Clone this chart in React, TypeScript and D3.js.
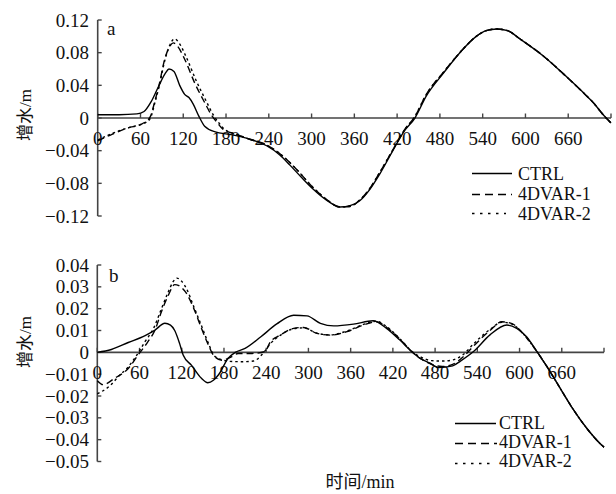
import React from "react";
import * as d3 from "d3";

// ---------- Panel a data ----------
const aCtrlT = [0, 30, 55, 65, 75, 85, 95, 100, 107, 115, 122, 128, 134, 142, 150, 165, 185, 210, 237, 255, 270, 285, 302, 320, 340, 355, 368, 382, 396, 414, 430, 445, 461, 485, 508, 531, 545, 560, 575, 592, 625, 657, 680, 695, 710, 720];
const aCtrlV = [0.004, 0.004, 0.005, 0.008, 0.02, 0.038, 0.055, 0.06, 0.057, 0.04, 0.029, 0.025, 0.017, 0.002, -0.01, -0.017, -0.02, -0.025, -0.034, -0.045, -0.058, -0.072, -0.087, -0.1, -0.109, -0.107, -0.101, -0.087, -0.068, -0.04, -0.016, 0, 0.027, 0.055, 0.08, 0.1, 0.107, 0.109, 0.107, 0.097, 0.076, 0.051, 0.032, 0.019, 0.003, -0.006];

const aV1T = [0, 20, 43, 60, 68, 74, 80, 86, 94, 100, 106, 112, 122, 136, 150, 160, 168, 176, 195, 213, 232, 256, 279, 302, 320, 340, 355, 368, 382, 396, 414, 430, 445, 461, 485, 508, 531, 545, 560, 575, 592, 625, 657, 680, 695, 710, 720];
const aV1V = [-0.028, -0.02, -0.012, -0.008, -0.004, 0.002, 0.02, 0.04, 0.072, 0.086, 0.092, 0.088, 0.072, 0.043, 0.019, 0.003, -0.006, -0.014, -0.02, -0.026, -0.031, -0.044, -0.063, -0.085, -0.099, -0.109, -0.108, -0.1, -0.086, -0.066, -0.039, -0.015, 0.002, 0.029, 0.056, 0.08, 0.1, 0.107, 0.109, 0.107, 0.097, 0.076, 0.051, 0.032, 0.019, 0.003, -0.006];

const aV2T = [0, 20, 43, 60, 68, 74, 80, 86, 94, 100, 108, 114, 124, 138, 152, 162, 170, 178, 195, 213, 232, 256, 279, 302, 320, 340, 355, 368, 382, 396, 414, 430, 445, 461, 485, 508, 531, 545, 560, 575, 592, 625, 657, 680, 695, 710, 720];
const aV2V = [-0.027, -0.019, -0.012, -0.008, -0.005, 0.0, 0.018, 0.038, 0.07, 0.087, 0.097, 0.092, 0.075, 0.046, 0.021, 0.004, -0.006, -0.014, -0.02, -0.026, -0.031, -0.044, -0.063, -0.085, -0.099, -0.109, -0.108, -0.1, -0.086, -0.066, -0.039, -0.015, 0.002, 0.029, 0.056, 0.08, 0.1, 0.107, 0.109, 0.107, 0.097, 0.076, 0.051, 0.032, 0.019, 0.003, -0.006];

// ---------- Panel b data ----------
const bCtrlT = [0, 20, 44, 68, 82, 96, 104, 110, 117, 122, 134, 148, 157, 165, 172, 186, 196, 210, 232, 255, 279, 298, 317, 336, 364, 392, 411, 430, 447, 459, 473, 485, 505, 516, 535, 558, 582, 596, 610, 625, 639, 658, 677, 696, 717, 720];
const bCtrlV = [0, 0.0013, 0.0045, 0.0077, 0.0102, 0.0133, 0.0125, 0.01, 0.004, -0.0012, -0.006, -0.0119, -0.0139, -0.0128, -0.0104, -0.0027, 0, 0.0018, 0.007, 0.013, 0.017, 0.0167, 0.0133, 0.0121, 0.0129, 0.0145, 0.011, 0.0056, 0.0003, -0.0028, -0.005, -0.007, -0.0062, -0.004, 0.0005, 0.008, 0.0125, 0.011, 0.0072, 0.0002, -0.0066, -0.0166, -0.0265, -0.035, -0.0426, -0.0435];

const bV1T = [0, 8, 25, 44, 58, 72, 82, 91, 101, 110, 116, 125, 139, 148, 158, 165, 177, 191, 200, 220, 238, 246, 260, 279, 293, 312, 331, 355, 378, 397, 411, 430, 447, 460, 475, 490, 505, 520, 535, 558, 575, 590, 605, 625, 639, 658, 677, 696, 717, 720];
const bV1V = [-0.013, -0.0148, -0.0118, -0.0074, -0.0012, 0.0049, 0.0102, 0.0185, 0.0262, 0.031, 0.0305, 0.0278, 0.0186, 0.011, 0.0033, -0.0013, -0.0036, -0.002, -0.0005, -0.0005, 0.0003, 0.0048, 0.0079, 0.011, 0.0114, 0.0087, 0.0079, 0.0095, 0.0125, 0.014, 0.0115, 0.006, 0.0003, -0.003, -0.0055, -0.0065, -0.0055, -0.002, 0.003, 0.01, 0.014, 0.013, 0.0085, 0.0002, -0.0066, -0.0166, -0.0265, -0.035, -0.0426, -0.0435];

const bV2T = [0, 18, 32, 42, 56, 68, 80, 90, 100, 108, 113, 120, 127, 137, 147, 158, 166, 178, 192, 207, 222, 234, 246, 260, 279, 293, 312, 331, 355, 378, 397, 411, 430, 447, 460, 475, 490, 505, 520, 535, 558, 575, 590, 605, 625, 639, 658, 677, 696, 717, 720];
const bV2V = [-0.019, -0.0153, -0.0104, -0.0074, -0.0013, 0.005, 0.011, 0.019, 0.027, 0.0325, 0.034, 0.0325, 0.029, 0.021, 0.013, 0.004, -0.0015, -0.0035, -0.0042, -0.0043, -0.004, -0.001, 0.004, 0.0078, 0.0108, 0.0112, 0.0088, 0.008, 0.0098, 0.0128, 0.0142, 0.0118, 0.0062, 0.0005, -0.0022, -0.0038, -0.004, -0.0035, -0.001, 0.004, 0.0105, 0.0138, 0.0128, 0.0085, 0.0002, -0.0066, -0.0166, -0.0265, -0.035, -0.0426, -0.0435];

// ---------- Axis ticks / labels ----------
const xTicks = [0, 60, 120, 180, 240, 300, 360, 420, 480, 540, 600, 660, 720];
const xTickLabels = ["0", "60", "120", "180", "240", "300", "360", "420", "480", "540", "600", "660", ""];
const aYTicks = [0.12, 0.08, 0.04, 0, -0.04, -0.08, -0.12];
const aYTickLabels = ["0.12", "0.08", "0.04", "0", "\u22120.04", "\u22120.08", "\u22120.12"];
const bYTicks = [0.04, 0.03, 0.02, 0.01, 0, -0.01, -0.02, -0.03, -0.04, -0.05];
const bYTickLabels = ["0.04", "0.03", "0.02", "0.01", "0", "\u22120.01", "\u22120.02", "\u22120.03", "\u22120.04", "\u22120.05"];
const seriesNames = ["CTRL", "4DVAR-1", "4DVAR-2"];

const SERIF = "Liberation Serif, DejaVu Serif, serif";
const CJK = "Noto Sans CJK SC, sans-serif";
const AXIS = "#444";
const dashes = [null, "7,4", "2.5,3"];
const legendDashes = [null, "8,5", "2.5,5.5"];

type PanelProps = {
  tag: string;
  xRange: [number, number];
  yDomain: [number, number];
  yRange: [number, number];
  yTicks: number[];
  yTickLabels: string[];
  series: { t: number[]; v: number[] }[];
  tagPos: [number, number];
  yLabelY: number;
  legend: { x0: number; x1s: number[]; tx: number; ys: number[]; tys: number[] };
};

function Panel(p: PanelProps) {
  const x = d3.scaleLinear().domain([0, 720]).range(p.xRange);
  const y = d3.scaleLinear().domain(p.yDomain).range(p.yRange);
  const y0 = y(0);
  const line = d3
    .line<[number, number]>()
    .x((d) => x(d[0]))
    .y((d) => y(d[1]))
    .curve(d3.curveMonotoneX);
  const ax = x(0);
  return (
    <g>
      {/* y axis */}
      <line x1={ax} x2={ax} y1={y(p.yTicks[0])} y2={y(p.yTicks[p.yTicks.length - 1])} stroke={AXIS} strokeWidth={1.6} />
      {p.yTicks.map((t, i) => (
        <g key={"yt" + i}>
          <line x1={ax} x2={ax + 4} y1={y(t)} y2={y(t)} stroke={AXIS} strokeWidth={1.4} />
          <text x={89} y={y(t)} dy="0.35em" textAnchor="end" fontSize={19} fontFamily={SERIF} fill="#111">
            {p.yTickLabels[i]}
          </text>
        </g>
      ))}
      {/* x axis */}
      <line x1={ax} x2={x(720)} y1={y0} y2={y0} stroke={AXIS} strokeWidth={1.6} />
      {xTicks.map((t, i) => (
        <g key={"xt" + i}>
          <line x1={x(t)} x2={x(t)} y1={y0} y2={y0 - 4.5} stroke={AXIS} strokeWidth={1.4} />
          <text x={x(t)} y={y0 + 26.5} textAnchor="middle" fontSize={19} fontFamily={SERIF} fill="#111">
            {xTickLabels[i]}
          </text>
        </g>
      ))}
      {/* series */}
      {p.series.map((s, i) => (
        <path
          key={"s" + i}
          d={line(s.t.map((t, j) => [t, s.v[j]] as [number, number])) || ""}
          fill="none"
          stroke="#000"
          strokeWidth={1.4}
          strokeDasharray={dashes[i] || undefined}
        />
      ))}
      {/* tag */}
      <text x={p.tagPos[0]} y={p.tagPos[1]} fontSize={19} fontFamily={SERIF} fill="#111">
        {p.tag}
      </text>
      {/* y label */}
      <text transform={`translate(31,${p.yLabelY}) rotate(-90)`} textAnchor="middle" fontSize={17} fill="#111">
        <tspan fontFamily={CJK}>增水</tspan>
        <tspan fontFamily={SERIF}>/m</tspan>
      </text>
      {/* legend */}
      {seriesNames.map((n, i) => (
        <g key={"lg" + i}>
          <line
            x1={p.legend.x0}
            x2={p.legend.x1s[i]}
            y1={p.legend.ys[i]}
            y2={p.legend.ys[i]}
            stroke="#000"
            strokeWidth={1.4}
            strokeDasharray={legendDashes[i] || undefined}
          />
          <text x={p.legend.tx} y={p.legend.tys[i]} fontSize={18} fontFamily={SERIF} fill="#111">
            {n}
          </text>
        </g>
      ))}
    </g>
  );
}

export default function App() {
  return (
    <svg
      width={616}
      height={494}
      viewBox="0 0 616 494"
      style={{ position: "absolute", left: 0, top: 0, background: "#fff" }}
    >
      <rect width={616} height={494} fill="#fff" />
      <Panel
        tag="a"
        xRange={[97.7, 611]}
        yDomain={[-0.12, 0.12]}
        yRange={[216, 20]}
        yTicks={aYTicks}
        yTickLabels={aYTickLabels}
        series={[
          { t: aCtrlT, v: aCtrlV },
          { t: aV1T, v: aV1V },
          { t: aV2T, v: aV2V },
        ]}
        tagPos={[107, 35]}
        yLabelY={115}
        legend={{ x0: 472, x1s: [512, 512, 506], tx: 518, ys: [173.5, 194.5, 213.5], tys: [180, 200, 220] }}
      />
      <Panel
        tag="b"
        xRange={[97.3, 604]}
        yDomain={[-0.05, 0.04]}
        yRange={[461.5, 265]}
        yTicks={bYTicks}
        yTickLabels={bYTickLabels}
        series={[
          { t: bCtrlT, v: bCtrlV },
          { t: bV1T, v: bV1V },
          { t: bV2T, v: bV2V },
        ]}
        tagPos={[109, 282]}
        yLabelY={342}
        legend={{ x0: 455, x1s: [496, 497, 490], tx: 499, ys: [423.5, 443.5, 463.5], tys: [428.5, 448, 467] }}
      />
      <text x={360} y={488} textAnchor="middle" fontSize={18} fill="#111">
        <tspan fontFamily={CJK}>时间</tspan>
        <tspan fontFamily={SERIF}>/min</tspan>
      </text>
    </svg>
  );
}
